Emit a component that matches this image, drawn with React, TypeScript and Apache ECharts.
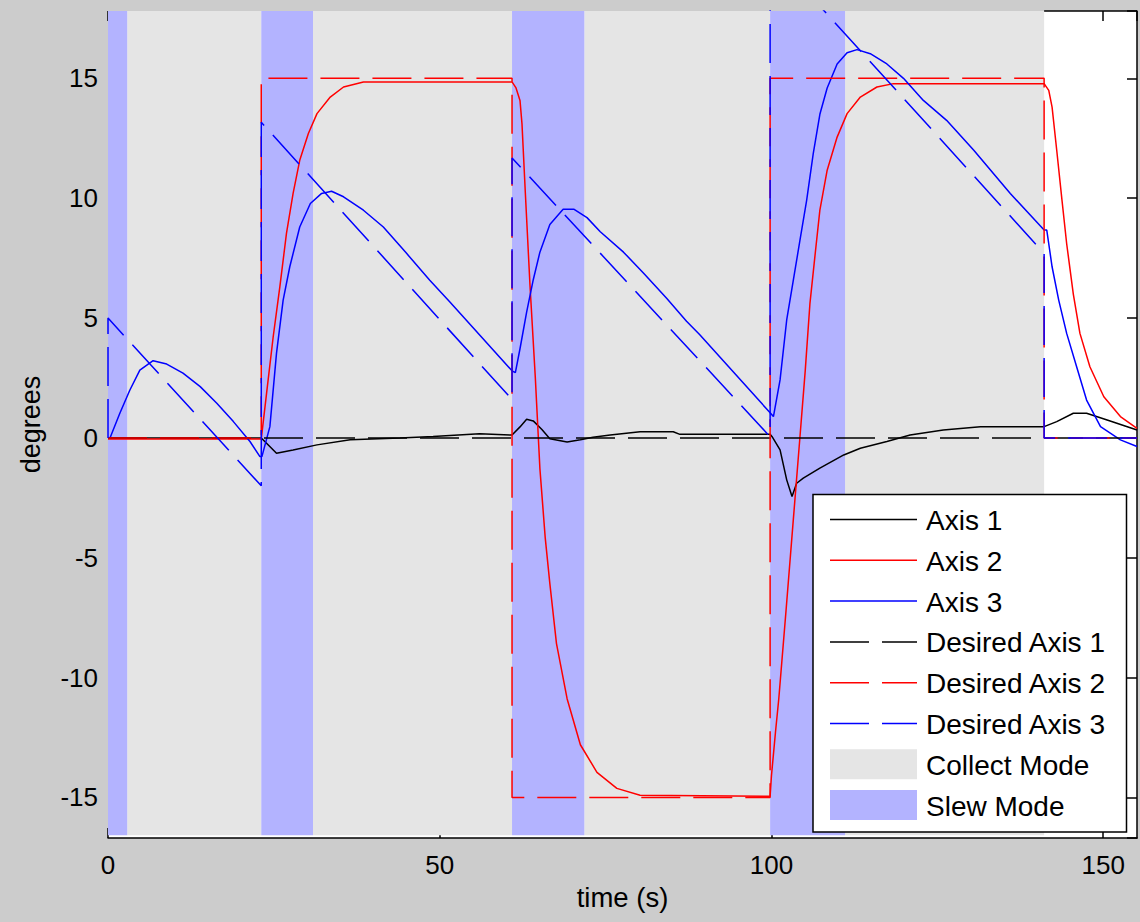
import React, { useEffect, useRef } from "react";
import * as echarts from "echarts";

// ---------- data ----------
const X_MIN = 0;
const X_MAX = 155.1;
const Y_MIN = -16.69;
const Y_MAX = 17.81;
const X_INTERVAL = 50;
const Y_INTERVAL = 5;
const BAND_BOTTOM = -16.58;

const slewIntervals: [number, number][] = [
  [0, 2.9],
  [23.1, 30.9],
  [60.9, 71.8],
  [99.8, 111.1],
];
const collectIntervals: [number, number][] = [
  [2.9, 23.1],
  [30.9, 60.9],
  [71.8, 99.8],
  [111.1, 141.1],
];

const axis1: [number, number][] = [
  [0, 0], [23.1, 0], [23.9, -0.22], [25.4, -0.64], [27.9, -0.5], [31.5, -0.29],
  [36.5, -0.08], [44, 0], [49, 0.06], [56, 0.17], [60.9, 0.12], [62.1, 0.46],
  [63.1, 0.78], [64.1, 0.71], [65.4, 0.35], [66.6, -0.03], [69.2, -0.17],
  [71.2, -0.08], [73.1, 0.03], [75.7, 0.12], [80.2, 0.26], [85.2, 0.26],
  [86.2, 0.15], [99.8, 0.15], [100.1, 0.05], [101.3, -0.5], [102.3, -1.75],
  [103.1, -2.44], [103.8, -1.89], [104.8, -1.68], [107.3, -1.26], [110.9, -0.71],
  [113.4, -0.43], [117.4, -0.15], [120.9, 0.12], [125.9, 0.33], [131.5, 0.47],
  [141.1, 0.47], [143, 0.68], [145.5, 1.03], [147.5, 1.03], [150.6, 0.75],
  [155.1, 0.33],
];

const axis2: [number, number][] = [
  [0, -0.05], [23.1, -0.05], [23.9, 1.86], [24.9, 4.22], [25.9, 6.3], [26.9, 8.53],
  [27.9, 10.2], [28.9, 11.58], [30.2, 12.7], [31.5, 13.53], [33.5, 14.22],
  [35.5, 14.64], [38.5, 14.85], [60.9, 14.85], [61.5, 14.6], [62.1, 14.08],
  [62.4, 13.1], [62.9, 10.25], [63.6, 6.4], [64.4, 2.56], [65.1, -1.28],
  [65.9, -4.16], [66.6, -6.08], [67.6, -8.58], [69.2, -10.88], [71.2, -12.8],
  [73.7, -13.95], [76.7, -14.62], [80.2, -14.91], [99.8, -14.95], [100.0, -14.1],
  [100.6, -12.3], [101.1, -10.9], [102.2, -7.2], [103.3, -3.4], [104.3, 0.05],
  [105.1, 2.83], [105.8, 5.6], [106.6, 7.7], [107.3, 9.5], [108.4, 11.17],
  [109.9, 12.55], [111.4, 13.53], [113.4, 14.22], [115.9, 14.64], [118.4, 14.78],
  [141.1, 14.78], [141.8, 14.5], [142.3, 13.8], [143.0, 12.0], [143.8, 9.9],
  [144.5, 8.1], [145.5, 6.0], [146.5, 4.36], [148.0, 2.97], [150.1, 1.72],
  [152.6, 0.89], [155.1, 0.4],
];

const axis3: [number, number][] = [
  [0, 0], [0.3, 0], [1.8, 1.04], [3.3, 2.0], [4.8, 2.83], [6.8, 3.22],
  [8.85, 3.08], [11.3, 2.7], [13.9, 2.14], [16.4, 1.45], [18.9, 0.68],
  [21.4, -0.15], [22.9, -0.78], [23.2, -0.78], [24.4, 0.47], [25.4, 3.54],
  [26.4, 5.75], [27.4, 7.14], [28.9, 8.8], [30.5, 9.78], [32.2, 10.2],
  [33.7, 10.29], [35.5, 10.06], [38.5, 9.5], [41.5, 8.8], [45.0, 7.7],
  [48.5, 6.58], [51.5, 5.68], [60.9, 2.8], [61.4, 2.72], [62.1, 3.72],
  [63.1, 5.25], [64.1, 6.6], [65.1, 7.75], [66.6, 8.9], [68.6, 9.54],
  [70.2, 9.54], [72.2, 9.19], [74.2, 8.6], [77.7, 7.75], [80.7, 6.88],
  [84.2, 5.83], [87.2, 4.87], [89.2, 4.3], [99.8, 1.05], [100.3, 0.89],
  [101.3, 2.42], [102.3, 4.92], [103.3, 6.58], [104.3, 8.25], [105.3, 9.9],
  [106.3, 11.86], [107.3, 13.5], [108.4, 14.6], [109.9, 15.6], [111.4, 16.07],
  [112.9, 16.2], [114.9, 16.03], [117.4, 15.6], [119.9, 15.0], [122.9, 14.08],
  [126.4, 13.25], [130.5, 12.0], [136, 10.2], [141.1, 8.67], [141.5, 8.67],
  [142.3, 7.14], [143.3, 5.75], [144.5, 4.36], [146, 2.97], [147.5, 1.58],
  [149.6, 0.47], [152.6, -0.08], [155.1, -0.36],
];

const desired1: [number, number][] = [
  [0, 0], [155.1, 0],
];
const desired2: [number, number][] = [
  [0, 0], [23.1, 0], [23.1, 15], [60.9, 15], [60.9, -15], [99.8, -15],
  [99.8, 15], [141.1, 15], [141.1, 0], [155.1, 0],
];
const desired3: [number, number][] = [
  [0, 0], [0, 5], [23.1, -2.0], [23.1, 13.17], [60.9, 1.6], [60.9, 11.68],
  [99.8, 0.05], [99.8, 20.3], [141.1, 7.7], [141.1, 0], [155.1, 0],
];

const seriesNames = [
  "Axis 1", "Axis 2", "Axis 3", "Desired Axis 1", "Desired Axis 2", "Desired Axis 3",
];
const seriesData = [axis1, axis2, axis3, desired1, desired2, desired3];
const seriesColors = ["#000000", "#ff0000", "#0000ff", "#000000", "#ff0000", "#0000ff"];
const seriesDashed = [false, false, false, true, true, true];
const modeNames = ["Collect Mode", "Slew Mode"];
const modeColors = ["#e5e5e5", "#b3b3ff"];

// ---------- style ----------
const FONT = '"Liberation Sans", Arial, Helvetica, sans-serif';
const DASH = [39, 13];
const LINE_W = 1.5;

export default function App() {
  const ref = useRef<HTMLDivElement>(null);

  useEffect(() => {
    if (!ref.current) return;
    const chart = echarts.init(ref.current, undefined, { renderer: "svg" });

    const bandData: any[] = [];
    collectIntervals.forEach(([a, b]) =>
      bandData.push([
        { xAxis: a, yAxis: BAND_BOTTOM, itemStyle: { color: modeColors[0] } },
        { xAxis: b, yAxis: Y_MAX },
      ])
    );
    slewIntervals.forEach(([a, b]) =>
      bandData.push([
        { xAxis: a, yAxis: BAND_BOTTOM, itemStyle: { color: modeColors[1] } },
        { xAxis: b, yAxis: Y_MAX },
      ])
    );
    const lastBandEnd = collectIntervals[collectIntervals.length - 1][1];

    const lineSeries = seriesNames.map((name, i) => ({
      name,
      type: "line",
      data: seriesData[i],
      showSymbol: false,
      symbol: "none",
      silent: true,
      clip: true,
      z: 3,
      lineStyle: {
        color: seriesColors[i],
        width: LINE_W,
        type: seriesDashed[i] ? DASH : "solid",
        cap: "butt",
      },
      itemStyle: { color: seriesColors[i] },
    }));

    // legend
    const LX = 813, LY = 494.5, LW = 313.5, LH = 337.5;
    const rowY0 = 519.5, rowStep = 40.8;
    const sx1 = 830, sx2 = 917, tx = 926;
    const LEG_FS = 28;
    const legendEls: any[] = [
      {
        type: "rect",
        shape: { x: LX, y: LY, width: LW, height: LH },
        style: { fill: "#ffffff", stroke: "#000000", lineWidth: 1.5 },
        z: 100,
      },
    ];
    seriesNames.forEach((name, i) => {
      const y = rowY0 + i * rowStep;
      legendEls.push({
        type: "line",
        shape: { x1: sx1, y1: y, x2: sx2, y2: y },
        style: {
          stroke: seriesColors[i],
          lineWidth: LINE_W,
          lineDash: seriesDashed[i] ? DASH : null,
        },
        z: 101,
      });
      legendEls.push({
        type: "text",
        style: {
          text: name, x: tx, y: y + 1, fill: "#000", fontSize: LEG_FS,
          fontFamily: FONT, verticalAlign: "middle", align: "left",
        },
        z: 101,
      });
    });
    modeNames.forEach((name, j) => {
      const y = rowY0 + (seriesNames.length + j) * rowStep;
      legendEls.push({
        type: "rect",
        shape: { x: sx1, y: y - 15, width: sx2 - sx1, height: 30 },
        style: { fill: modeColors[j] },
        z: 101,
      });
      legendEls.push({
        type: "text",
        style: {
          text: name, x: tx, y: y + 1, fill: "#000", fontSize: LEG_FS,
          fontFamily: FONT, verticalAlign: "middle", align: "left",
        },
        z: 101,
      });
    });

    const axisLine = { show: true, onZero: false, lineStyle: { color: "#000", width: 1.5 } };
    const hiddenLine = { show: false, onZero: false };
    const axisTick = { show: true, inside: true, length: 10, lineStyle: { color: "#000", width: 1.5 } };

    chart.setOption({
      animation: false,
      backgroundColor: "#cccccc",
      textStyle: { fontFamily: FONT },
      grid: {
        left: 108, right: 3, top: 11, bottom: 84,
        show: true, backgroundColor: "#ffffff", borderWidth: 0,
      },
      xAxis: [
        {
          type: "value", position: "bottom", min: X_MIN, max: X_MAX, interval: X_INTERVAL,
          axisLine, axisTick,
          splitLine: { show: false },
          axisLabel: { color: "#000", fontSize: 26, margin: 14, showMaxLabel: false, fontFamily: FONT },
          name: "time (s)", nameLocation: "middle", nameGap: 45,
          nameTextStyle: { color: "#000", fontSize: 27.5, fontFamily: FONT },
        },
        {
          type: "value", position: "top", min: X_MIN, max: X_MAX, interval: X_INTERVAL,
          axisLine: hiddenLine, axisTick,
          splitLine: { show: false },
          axisLabel: { show: false },
        },
      ],
      yAxis: [
        {
          type: "value", position: "left", min: Y_MIN, max: Y_MAX,
          minInterval: Y_INTERVAL, maxInterval: Y_INTERVAL,
          axisLine: hiddenLine, axisTick: { show: false },
          splitLine: { show: false },
          axisLabel: {
            color: "#000", fontSize: 26, margin: 10, fontFamily: FONT,
            showMinLabel: false, showMaxLabel: false,
          },
          name: "degrees", nameLocation: "middle", nameGap: 64, nameRotate: 90,
          nameTextStyle: { color: "#000", fontSize: 27, fontFamily: FONT },
        },
        {
          type: "value", position: "right", min: Y_MIN, max: Y_MAX,
          minInterval: Y_INTERVAL, maxInterval: Y_INTERVAL,
          axisLine, axisTick,
          splitLine: { show: false },
          axisLabel: { show: false },
        },
      ],
      series: [
        {
          name: "bands",
          type: "line",
          data: [],
          showSymbol: false,
          silent: true,
          z: 1,
          markArea: {
            silent: true,
            z: 1,
            label: { show: false },
            emphasis: { disabled: true },
            data: bandData,
          },
          markLine: {
            silent: true,
            symbol: ["none", "none"],
            label: { show: false },
            emphasis: { disabled: true },
            lineStyle: { color: "#000", width: 1.5, type: "solid" },
            data: [[{ coord: [lastBandEnd, Y_MAX] }, { coord: [X_MAX, Y_MAX] }]],
          },
        },
        ...lineSeries,
      ],
      graphic: legendEls,
    });

    return () => chart.dispose();
  }, []);

  return (
    <div
      ref={ref}
      style={{ position: "fixed", left: 0, top: 0, width: 1140, height: 922 }}
    />
  );
}
